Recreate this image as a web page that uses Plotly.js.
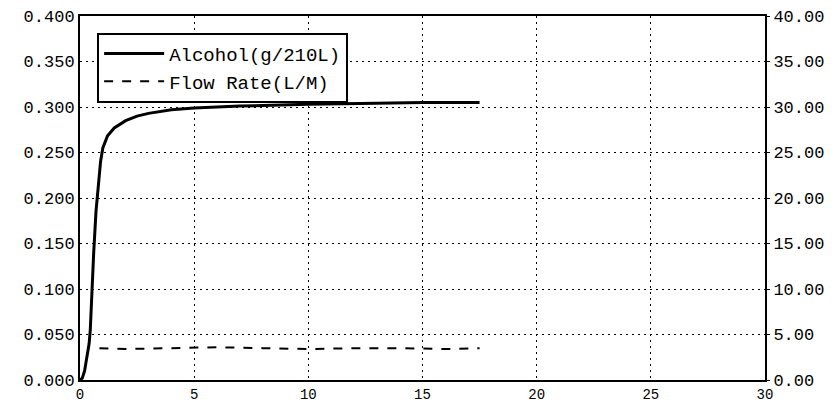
<!DOCTYPE html>
<html>
<head>
<meta charset="utf-8">
<script src="https://cdn.plot.ly/plotly-3.0.1.min.js"></script>
<style>html,body{margin:0;padding:0;background:#fff;}#chart{width:835px;height:404px;}</style>
</head>
<body>
<div id="chart"></div>
<script>
// Alcohol (g/210L) on left axis
const alcoholTime = [0, 0.1, 0.2, 0.3, 0.4, 0.45, 0.5, 0.6, 0.7, 0.8, 0.9, 1.0, 1.2, 1.5, 2.0, 2.5, 3.0, 4.0, 5.0, 7.0, 10.0, 13.0, 15.0, 17.5];
const alcoholValue = [0, 0.002, 0.01, 0.025, 0.04, 0.055, 0.09, 0.14, 0.185, 0.215, 0.24, 0.255, 0.268, 0.277, 0.285, 0.290, 0.293, 0.297, 0.299, 0.301, 0.303, 0.304, 0.305, 0.305];
// Flow rate (L/M) on right axis
const flowTime = [0.85, 2, 4, 6, 8, 10, 12, 14, 16, 17.5];
const flowValue = [3.5, 3.4, 3.5, 3.6, 3.5, 3.4, 3.5, 3.5, 3.4, 3.5];
const xTicks = [0, 5, 10, 15, 20, 25, 30];
const leftTicks = [0, 0.05, 0.1, 0.15, 0.2, 0.25, 0.3, 0.35, 0.4];
const rightTicks = [0, 5, 10, 15, 20, 25, 30, 35, 40];

const mono = 'Liberation Mono, DejaVu Sans Mono, monospace';
const traces = [
  {x: alcoholTime, y: alcoholValue, type: 'scatter', mode: 'lines', name: 'Alcohol(g/210L)',
   line: {color: '#000', width: 3}, yaxis: 'y'},
  {x: flowTime, y: flowValue, type: 'scatter', mode: 'lines', name: 'Flow Rate(L/M)',
   line: {color: '#000', width: 2, dash: 'dash'}, yaxis: 'y2'}
];
const layout = {
  width: 835, height: 404,
  margin: {l: 80, r: 70, t: 16, b: 24},
  paper_bgcolor: '#fff', plot_bgcolor: '#fff',
  font: {family: mono, size: 17, color: '#000'},
  showlegend: true,
  legend: {x: 0.025, y: 0.954, xanchor: 'left', yanchor: 'top', bgcolor: '#fff',
           bordercolor: '#000', borderwidth: 2, font: {family: mono, size: 19, color: '#000'},
           itemwidth: 60, tracegroupgap: 0},
  xaxis: {range: [0, 30], tickvals: xTicks, ticktext: xTicks.map(String), showgrid: true,
          gridcolor: '#000', gridwidth: 1, griddash: '2px,4px', zeroline: false,
          showline: true, linecolor: '#000', linewidth: 2, mirror: true,
          ticks: '', ticklabelstandoff: 0, tickfont: {family: mono, size: 14}},
  yaxis: {range: [0, 0.4], tickvals: leftTicks, ticktext: leftTicks.map(v => v.toFixed(3)),
          showgrid: true, gridcolor: '#000', gridwidth: 1, griddash: '2px,4px', zeroline: false,
          showline: true, linecolor: '#000', linewidth: 2, mirror: true,
          ticks: '', tickfont: {family: mono, size: 17}},
  yaxis2: {range: [0, 40], tickvals: rightTicks, ticktext: rightTicks.map(v => v.toFixed(2)),
           overlaying: 'y', side: 'right', showgrid: false, zeroline: false,
           showline: false, ticks: 'outside', ticklen: 4, tickcolor: '#000',
           tickfont: {family: mono, size: 17}}
};
Plotly.newPlot('chart', traces, layout, {displayModeBar: false, staticPlot: true});
</script>
</body>
</html>
